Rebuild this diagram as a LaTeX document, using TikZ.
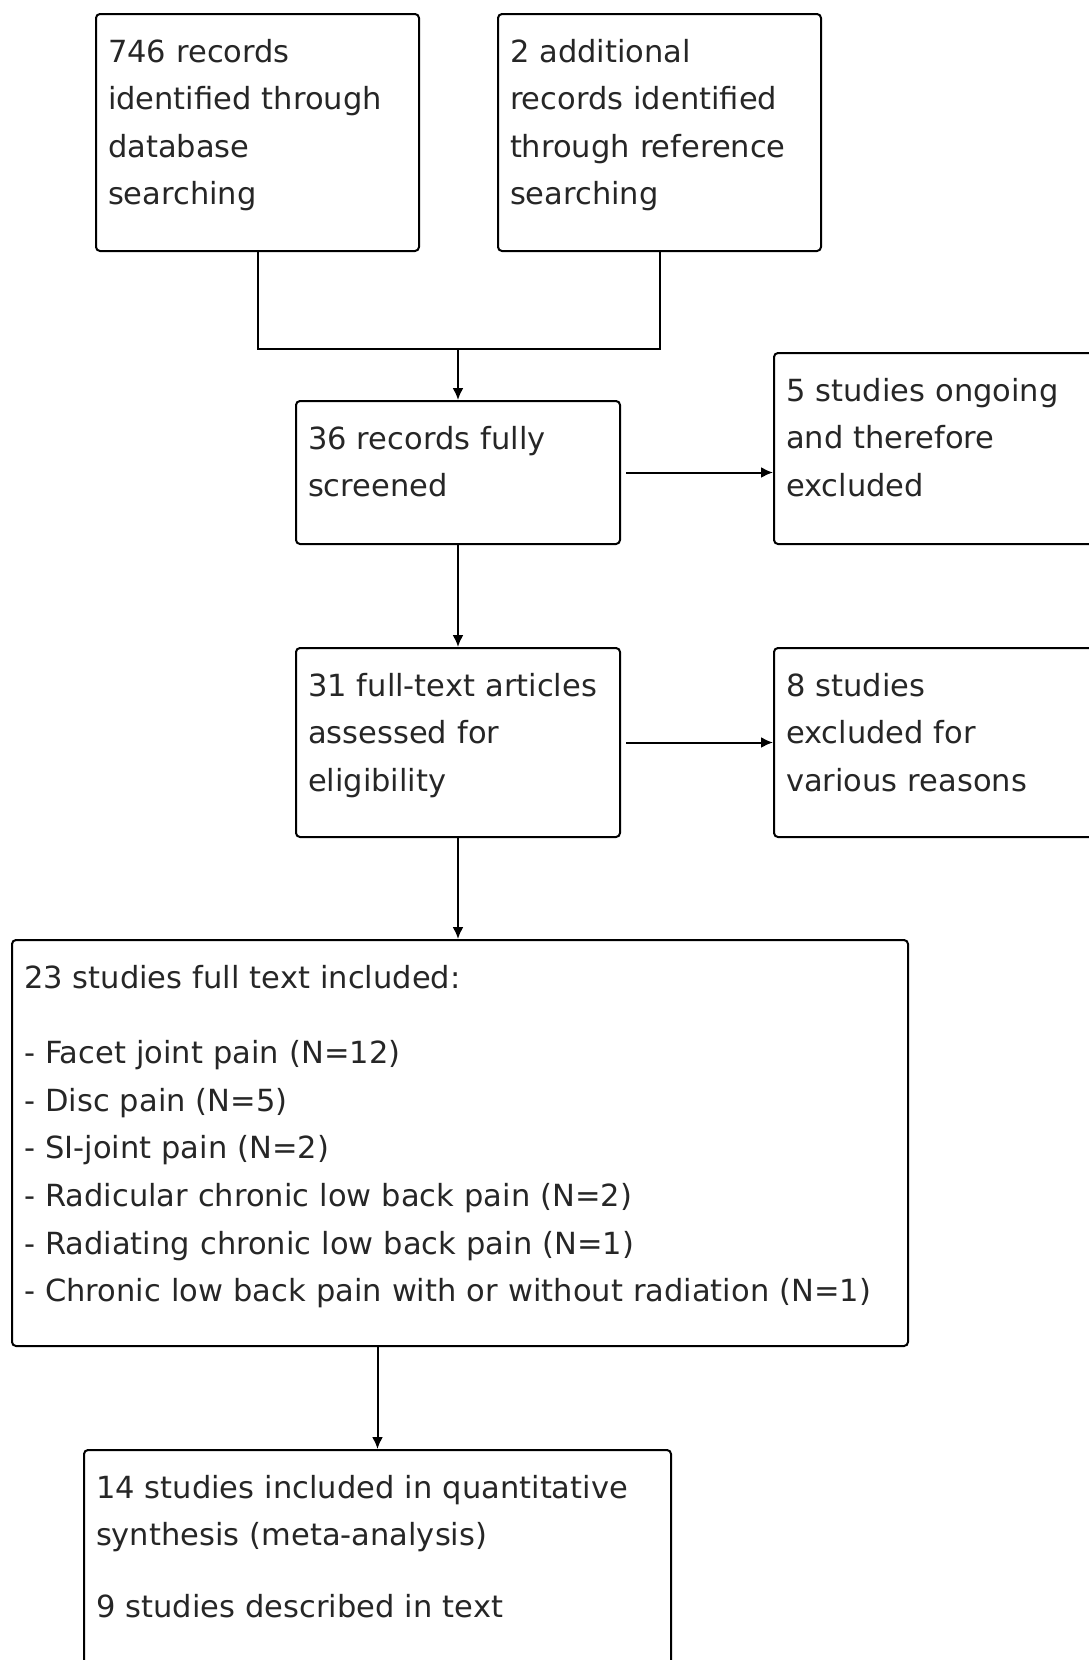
\documentclass[tikz,border=0pt]{standalone}
\usepackage{fontspec}
\setmainfont{DejaVu Sans}
\usetikzlibrary{arrows.meta}
\begin{document}
\begin{tikzpicture}[x=1pt,y=-1pt,
  box/.style={draw, line width=2pt, rounded corners=4pt, anchor=north west,
    align=left, inner xsep=12pt, inner ysep=0pt, text height=48pt,
    font=\fontsize{30.5}{47.6}\selectfont, text=black!85},
  conn/.style={line width=2pt},
  arr/.style={conn, -{Latex[length=12pt,width=11pt]}}]
\useasboundingbox (0,0) rectangle (1089,1660);
\clip (0,0) rectangle (1089,1660);

\node[box, text width=299pt, text depth=189pt] (b1) at (95,13)
  {746 records\\identified through\\database\\searching};
\node[box, text width=299pt, text depth=189pt] (b2) at (497,13)
  {2 additional\\records identified\\through reference\\searching};
\node[box, text width=300pt, text depth=95pt] (b3) at (295,400)
  {36 records fully\\screened};
\node[box, text width=316pt, text depth=143pt] (b4) at (773,352)
  {5 studies ongoing\\and therefore\\excluded};
\node[box, text width=300pt, text depth=141pt] (b5) at (295,647)
  {31 full-text articles\\assessed for\\eligibility};
\node[box, text width=316pt, text depth=141pt] (b6) at (773,647)
  {8 studies\\excluded for\\various reasons};
\node[box, text width=872pt, text depth=358pt] (b7) at (11,939)
  {23 studies full text included:\\[28pt]
   - Facet joint pain (N=12)\\
   - Disc pain (N=5)\\
   - SI-joint pain (N=2)\\
   - Radicular chronic low back pain (N=2)\\
   - Radiating chronic low back pain (N=1)\\
   - Chronic low back pain with or without radiation (N=1)};
\node[box, text width=563pt, text depth=192pt] (b8) at (83,1449)
  {14 studies included in quantitative\\synthesis (meta-analysis)\\[24pt]
   9 studies described in text};

\coordinate (j) at (b3.north |- 0,349);
\draw[conn] (b1.south) |- (j) -| (b2.south);
\draw[arr] (j) -- (b3.north);
\draw[arr] ([xshift=5pt]b3.east) -- (b4.west |- b3.east);
\draw[arr] (b3.south) -- (b5.north);
\draw[arr] ([xshift=5pt]b5.east) -- (b6.west |- b5.east);
\draw[arr] (b5.south) -- (b5.south |- b7.north);
\draw[arr] (b8.north |- b7.south) -- (b8.north);
\end{tikzpicture}
\end{document}
